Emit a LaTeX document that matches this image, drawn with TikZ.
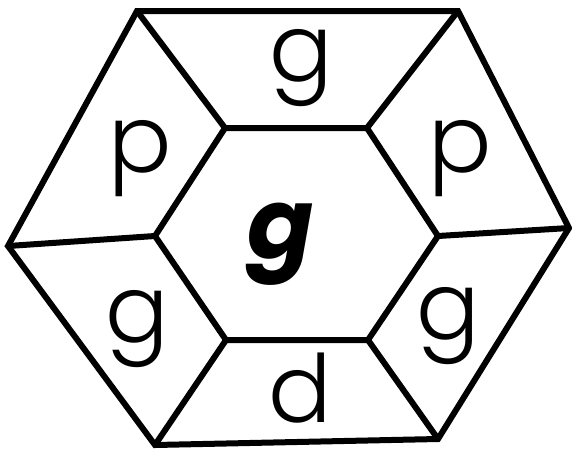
\documentclass[tikz,border=0pt]{standalone}
\usepackage{fontspec}
\setmainfont{Poppins}[UprightFont=* Light, BoldItalicFont=* Bold Italic]
\tikzset{
  edge/.style={draw=black, line width=6pt, line join=miter},
  letter/.style={anchor=base, inner sep=0pt, font=\fontsize{94}{94}\selectfont},
  hub/.style={anchor=base, inner sep=0pt, font=\fontsize{98}{98}\selectfont\bfseries\itshape}
}
\begin{document}
\begin{tikzpicture}[x=1pt,y=-1pt]
\useasboundingbox (0,0) rectangle (572,448);

% outer hexagon
\coordinate (o1) at (137,11);
\coordinate (o2) at (458,11);
\coordinate (o3) at (569,228);
\coordinate (o4) at (438,439);
\coordinate (o5) at (155,445);
\coordinate (o6) at (8,246);

% inner hexagon
\coordinate (i1) at (225,128);
\coordinate (i2) at (367,128);
\coordinate (i3) at (438,236);
\coordinate (i4) at (368,340);
\coordinate (i5) at (226,340);
\coordinate (i6) at (155,236);

\draw[edge] (o1) -- (o2) -- (o3) -- (o4) -- (o5) -- (o6) -- cycle;
\draw[edge] (i1) -- (i2) -- (i3) -- (i4) -- (i5) -- (i6) -- cycle;
\foreach \k in {1,...,6}
  \draw[edge] (o\k) -- (i\k);

% labels of the six cells
\node[letter] (top) at (301,81) {g};
\node[letter] (upleft) at (140,172) {p};
\node[letter] (upright) at (460,172) {p};
\node[letter] (lowleft) at (137,342) {g};
\node[letter] (lowright) at (448,339) {g};
\node[letter] (bottom) at (300,422) {d};

\node[hub] (centre) at (281,258) {g};

\end{tikzpicture}
\end{document}
